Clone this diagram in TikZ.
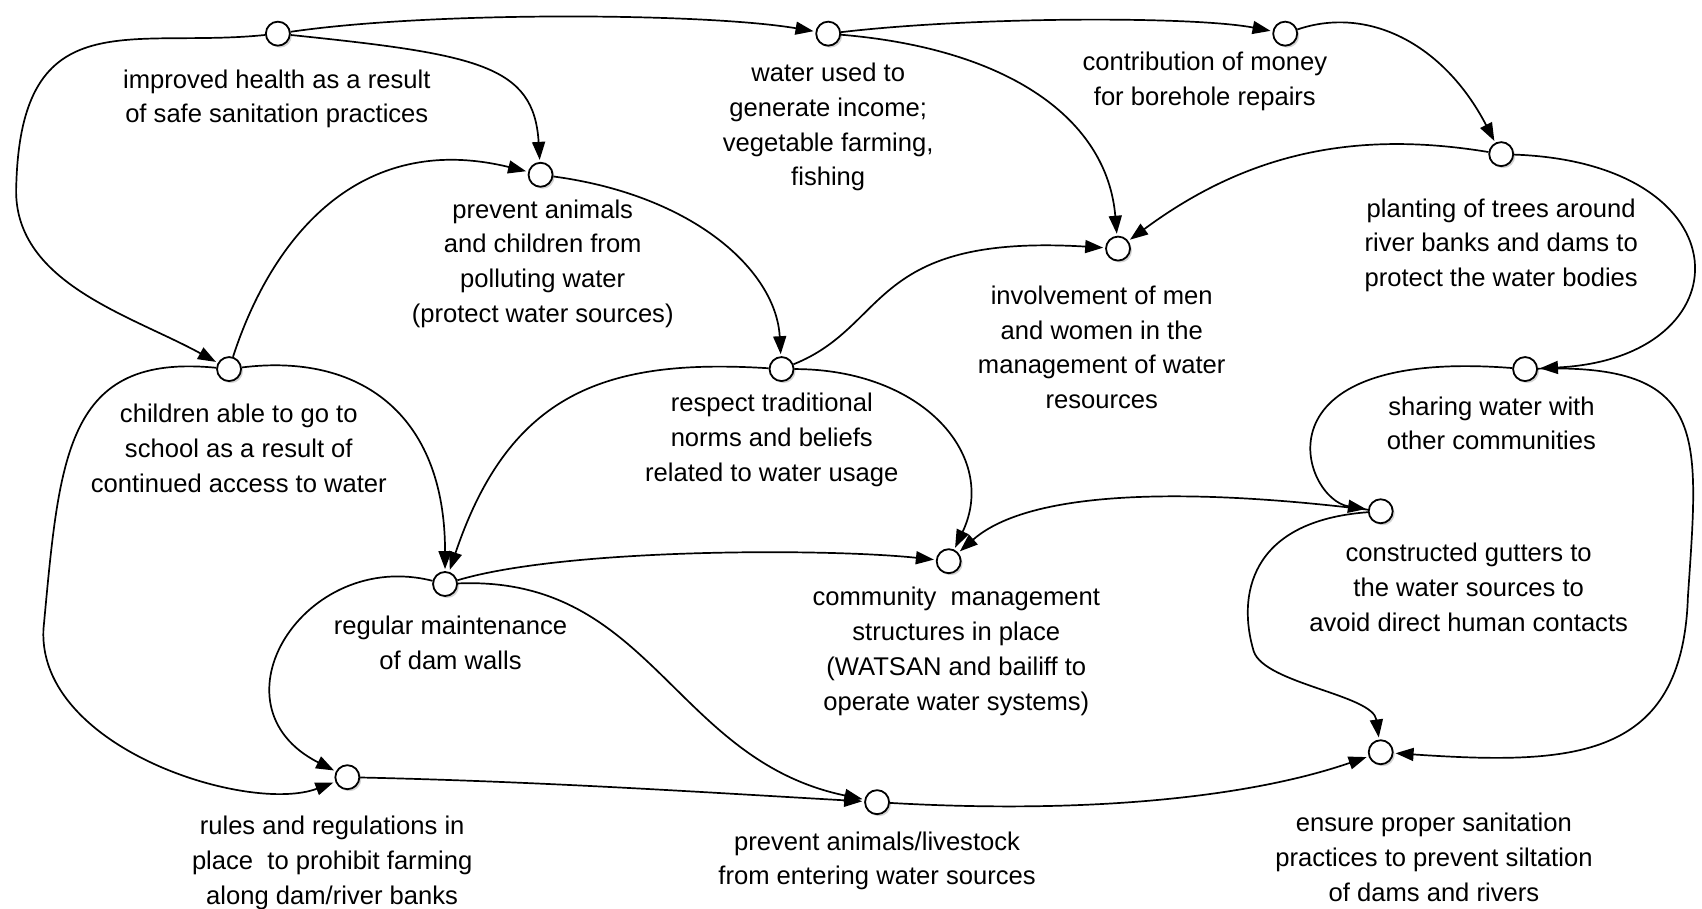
\documentclass[tikz,border=0pt]{standalone}
\usepackage{fontspec}
\setmainfont{Liberation Sans}
\usetikzlibrary{arrows.meta, shadows}

\begin{document}
\begin{tikzpicture}[x=0.5428pt, y=-0.5428pt,
  var/.style={circle, draw, fill=white, line width=0.9pt, minimum size=12pt, inner sep=0pt,
    drop shadow={shadow xshift=1pt, shadow yshift=-1pt, opacity=0.35}},
  txt/.style={align=center, inner sep=0pt, font=\fontsize{12.8}{17.4}\selectfont},
  link/.style={line width=0.85pt, -{Triangle[length=9pt, width=6.5pt]}, shorten >=1pt}]
  \useasboundingbox (0,0) rectangle (1568,837);

  \node[var] (health) at (256,31) {};
  \node[var] (income) at (763,31) {};
  \node[var] (money) at (1184,31) {};
  \node[var] (trees) at (1383,142) {};
  \node[var] (protect) at (498,161) {};
  \node[var] (involve) at (1030,229) {};
  \node[var] (school) at (211,340) {};
  \node[var] (respect) at (720,340) {};
  \node[var] (share) at (1405,340) {};
  \node[var] (gutter) at (1272,471) {};
  \node[var] (dam) at (410,538) {};
  \node[var] (mgmt) at (874,517) {};
  \node[var] (rules) at (320,716) {};
  \node[var] (livestock) at (808,739) {};
  \node[var] (sanit) at (1272,693) {};

  \node[txt] (health-t) at (255,91) {improved health as a result\\of safe sanitation practices};
  \node[txt] (income-t) at (763,117) {water used to\\generate income;\\vegetable farming,\\fishing};
  \node[txt] (money-t) at (1110,75) {contribution of money\\for borehole repairs};
  \node[txt] (trees-t) at (1383,226) {planting of trees around\\river banks and dams to\\protect the water bodies};
  \node[txt] (protect-t) at (500,243) {prevent animals\\and children from\\polluting water\\(protect water sources)};
  \node[txt] (involve-t) at (1015,320) {involvement of men\\and women in the\\management of water\\resources};
  \node[txt] (school-t) at (220,413) {children able to go to\\school as a result of\\continued access to water};
  \node[txt] (respect-t) at (711,405) {respect traditional\\norms and beliefs\\related to water usage};
  \node[txt] (share-t) at (1374,390) {sharing water with\\other communities};
  \node[txt] (gutter-t) at (1353,541) {constructed gutters to\\the water sources to\\avoid direct human contacts};
  \node[txt] (dam-t) at (415,592) {regular maintenance\\of dam walls};
  \node[txt] (mgmt-t) at (881,600) {community\ \ management\\structures in place\\(WATSAN and bailiff to\\operate water systems)};
  \node[txt] (rules-t) at (306,795) {rules and regulations in\\place\ \ to prohibit farming\\along dam/river banks};
  \node[txt] (livestock-t) at (808,793) {prevent animals/livestock\\from entering water sources};
  \node[txt] (sanit-t) at (1321,790) {ensure proper sanitation\\practices to prevent siltation\\of dams and rivers};

  \draw[link] (health) .. controls (400,10) and (650,12) .. (income);
  \draw[link] (health) .. controls (440,50) and (492,60) .. (protect);
  \draw[link] (health) .. controls (120,45) and (20,0) .. (15,170) .. controls (10,260) and (120,290) .. (school);
  \draw[link] (school) .. controls (250,220) and (330,120) .. (protect);
  \draw[link] (protect) .. controls (640,180) and (715,250) .. (respect);
  \draw[link] (income) .. controls (900,15) and (1100,15) .. (money);
  \draw[link] (income) .. controls (930,45) and (1020,110) .. (involve);
  \draw[link] (money) .. controls (1260,5) and (1330,40) .. (trees);
  \draw[link] (trees) .. controls (1250,120) and (1150,140) .. (involve);
  \draw[link] (respect) .. controls (820,300) and (800,215) .. (involve);
  \draw[link] (trees) .. controls (1610,150) and (1610,330) .. (share);
  \draw[link] (school) .. controls (330,325) and (410,380) .. (dam);
  \draw[link] (school) .. controls (60,325) and (55,420) .. (40,580) .. controls (35,690) and (230,750) .. (rules);
  \draw[link] (respect) .. controls (560,330) and (470,360) .. (dam);
  \draw[link] (respect) .. controls (850,340) and (920,420) .. (mgmt);
  \draw[link] (share) .. controls (1150,320) and (1200,460) .. (gutter);
  \draw[link] (share) .. controls (1575,335) and (1565,400) .. (1555,550) .. controls (1550,700) and (1450,705) .. (sanit);
  \draw[link] (gutter) .. controls (1100,450) and (950,450) .. (mgmt);
  \draw[link] (gutter) .. controls (1150,480) and (1140,550) .. (1155,600) .. controls (1165,630) and (1265,640) .. (sanit);
  \draw[link] (dam) .. controls (520,505) and (760,505) .. (mgmt);
  \draw[link] (dam) .. controls (600,530) and (620,700) .. (livestock);
  \draw[link] (dam) .. controls (280,505) and (190,650) .. (rules);
  \draw[link] (rules) .. controls (500,720) and (650,730) .. (livestock);
  \draw[link] (livestock) .. controls (1000,750) and (1150,735) .. (sanit);
\end{tikzpicture}
\end{document}
